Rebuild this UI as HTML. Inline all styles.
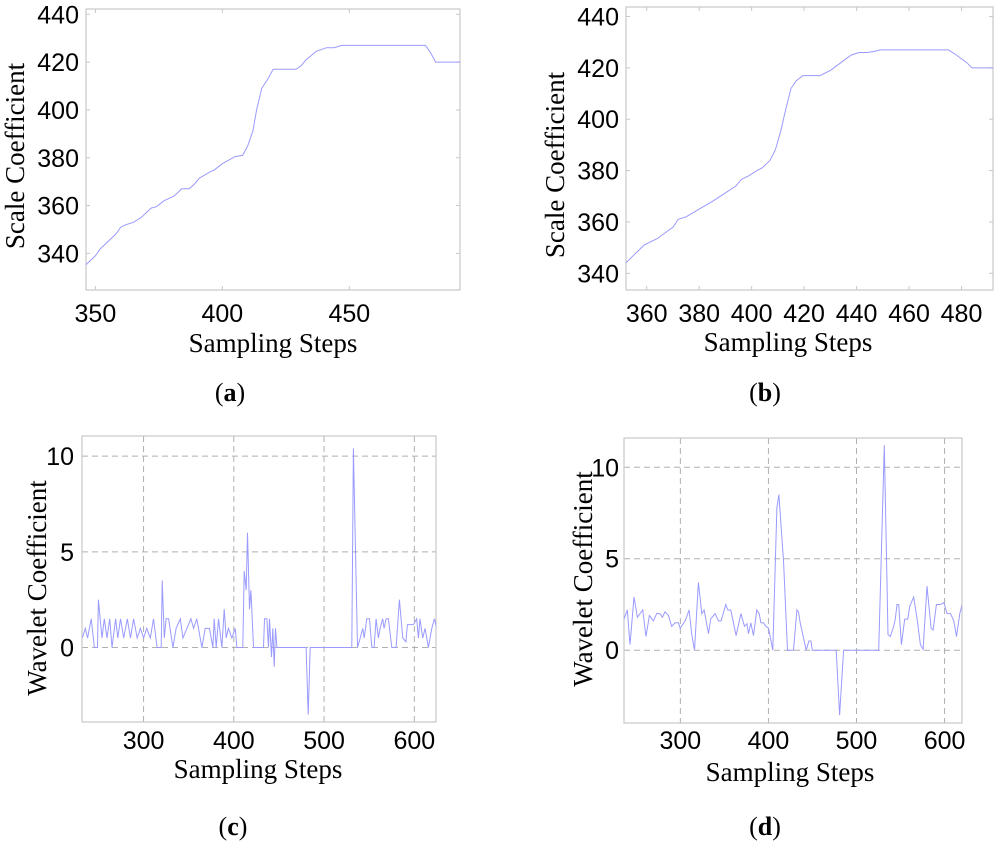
<!DOCTYPE html>
<html><head><meta charset="utf-8"><style>
html,body{margin:0;padding:0;background:#fff;}
svg{display:block;}
.tk{font-family:"Liberation Sans",sans-serif;font-size:25px;fill:#000;}
.ti{font-family:"Liberation Serif",serif;font-size:27px;fill:#000;}
.cap{font-family:"Liberation Serif",serif;font-size:26px;fill:#000;}
</style></head><body>
<svg id="fig" width="1000" height="842" viewBox="0 0 1000 842"></svg>
<script>
// Panel (a)
const aX=[346,350,352,358,360,362,365,368,372,374,377,379,381,383,384,387,389,391,395,397,400,405,408,410,412,413.5,415.5,418,420,429,431,433,437,441,444,447,480,482,484,494];
const aY=[335,339,342,348,351,352,353,355,359,359.5,362,363,364,366,367,367,369,371.5,374,375,377.5,380.5,381,385,391,400,409,413,417,417,418.5,421,424.5,426,426,427,427,424,420,420];
const aXTicks=[350,400,450];
const aYTicks=[340,360,380,400,420,440];
// Panel (b)
const bX=[352,355,359,364,370,372,375,380,385,388,394,396,399,402,404,407,409,411,413,415,417,419.5,422,426,430,434,438,441,444,447,449,475,478,482,484,492];
const bY=[344,347,351,353.5,358,361,362,365,368,370,374,376.5,378,380,381,384,388,395,404,412,415,417,417,417,419,422,425,426,426,426.5,427,427,425,422,420,420];
const bXTicks=[360,380,400,420,440,460,480];
const bYTicks=[340,360,380,400,420,440];
// Panel (c)
const cX=[232,235.5,238,242,245.5,249,250,254,256.5,259.5,262.5,265,269,271.5,274.5,278,282,285.5,289,293,296.5,300,303.5,307.5,311,315,319.5,320.7,323,325,327.7,332.5,336,340.7,343.6,348,352.5,355.4,359,364.6,368.3,373,376.8,378.3,380.5,383,386.8,389.4,391.6,394,397.9,401.5,403.4,410,411.5,413.7,415.2,417.4,418.9,421.8,432.9,434,436.6,438.4,439.5,441.7,443.2,444.7,446.2,447.7,480.1,482.4,484.6,530.7,532.5,537,540,542.9,544.4,547.3,550.3,552.9,555.4,557.6,560.2,562.1,565,566.5,568.7,571.3,575,579.8,583.5,587.2,590.7,592.3,599,602.6,604.5,606.3,609.3,611.9,615.6,619.3,622.2,624.8];
const cY=[0.5,1,0.5,1.5,0,0,2.5,0.5,1.5,0.5,1.5,0,1.5,0.5,1.5,0.5,1.5,0.5,1.5,0.5,1,0.5,1,0.5,1.5,0,0,3.5,0.5,1.5,1.5,0,1,1.5,0.5,1,1.5,1,1.5,0,1,1,0,1.5,0,1.5,0,2,0.5,1,0.5,1,0,0,4,3,6,2,3,0,0,1.5,1.5,0,1.5,-0.5,1,-1,1,0,0,-3.5,0,0,10.4,0,0.5,1,0.5,1.5,1.5,0,0,1.5,0.5,1,1.5,1,1.5,1.5,0,0,2.5,0.5,0.3,1.2,1.2,1.5,0.5,1.5,0.5,1,0,1,1.5,1];
const cXTicks=[300,400,500,600];
const cYTicks=[0,5,10];
// Panel (d)
const dX=[236,239.8,242.8,247.4,251.2,257.2,261,264.8,269.4,273.1,276.9,279.6,282.6,286.4,290.2,294,297.8,299.7,305.4,309.9,312.9,316,320.5,324.3,327,331.9,334.5,339.5,343.3,346.3,351.6,353.9,357.3,363.3,368.7,372.8,375.5,377.4,380,383,386.8,389.5,391.4,394.4,397.1,400.1,405,409.6,411.9,417.2,421.7,428.5,432.3,434.2,436.1,442.9,446,448.2,449.8,477,480.8,485.4,525.2,531.6,535.8,538.4,542.2,544.1,546,547.9,551,554.7,558.2,560.4,565,568.8,572.6,575.6,580.1,584.7,587,590.7,595.3,599.1,602.9,606.7,610.5,613.5,617.3,620];
const dY=[1.7,2.2,0.3,2.9,1.8,2.2,0.75,1.9,1.6,2.0,2.0,1.8,2.1,1.9,1.3,1.5,1.5,1.2,1.6,2.2,0.9,0,3.7,2.0,2.2,0.9,1.7,2.0,1.6,1.6,2.5,2.2,2.2,0.8,2.0,1.3,1.45,0.9,1.5,0.8,2.2,2.0,1.5,1.5,1.3,1.2,0,7.8,8.5,4.8,0,0,2.2,2.1,1.5,0,0.5,0.5,0,0,-3.55,0,0,11.2,0.85,0.75,1.3,1.7,2.5,2.5,0.3,1.7,1.7,2.4,2.9,1.7,0.3,0.05,3.5,1.2,1.1,2.5,2.5,2.6,2.0,2.0,1.6,0.75,2.0,2.5];
const dXTicks=[300,400,500,600];
const dYTicks=[0,5,10];

const NS="http://www.w3.org/2000/svg";
const svg=document.getElementById('fig');
function mk(tag,attrs,parent){const e=document.createElementNS(NS,tag);for(const k in attrs)e.setAttribute(k,attrs[k]);(parent||svg).appendChild(e);return e;}

function panel(p){
  const g=mk('g',{});
  
  
  const sx=v=>p.L+(v-p.x0)/(p.x1-p.x0)*(p.R-p.L);
  const sy=v=>p.B-(v-p.y0)/(p.y1-p.y0)*(p.B-p.T);
  p.xt.forEach(v=>{
    const x=sx(v);
    if(p.grid){const l=mk('line',{x1:x,x2:x,y1:p.T,y2:p.B,stroke:'#b0b0b0','stroke-width':1,'stroke-dasharray':'6,4'},g);}
    else{mk('line',{x1:x,x2:x,y1:p.B,y2:p.B-4,stroke:'#c8c8c8'},g);mk('line',{x1:x,x2:x,y1:p.T,y2:p.T+4,stroke:'#c8c8c8'},g);}
    const t=mk('text',{x:x,y:p.xly,'text-anchor':'middle',class:'tk'},g);t.textContent=v;
    
    
  });
  p.yt.forEach(v=>{
    const y=sy(v);
    if(p.grid){const l=mk('line',{x1:p.L,x2:p.R,y1:y,y2:y,stroke:'#b0b0b0','stroke-width':1,'stroke-dasharray':'6,4'},g);}
    else{mk('line',{x1:p.L,x2:p.L+4,y1:y,y2:y,stroke:'#c8c8c8'},g);mk('line',{x1:p.R,x2:p.R-4,y1:y,y2:y,stroke:'#c8c8c8'},g);}
    const t=mk('text',{x:p.ylx,y:y+9,'text-anchor':'end',class:'tk'},g);t.textContent=v;
    
    
  });
  const box=mk('rect',{x:p.L,y:p.T,width:p.R-p.L,height:p.B-p.T,fill:'none',stroke:'#c8c8c8','stroke-width':1.2},g);
  
  
  const cp=mk('clipPath',{id:'cp'+p.id},g);mk('rect',{x:p.L,y:p.T,width:p.R-p.L,height:p.B-p.T},cp);
  const pts=p.xs.map((v,i)=>sx(v).toFixed(1)+','+sy(p.ys[i]).toFixed(1)).join(' ');
  const line=mk('polyline',{points:pts,fill:'none',stroke:'#9a9aff','stroke-width':1,'clip-path':'url(#cp'+p.id+')'},g);
  
  
  const xt=mk('text',{x:p.xtx,y:p.xty,'text-anchor':'middle',class:'ti'},g);xt.textContent='Sampling Steps';
  
  
  const yt=mk('text',{x:0,y:0,'text-anchor':'middle',class:'ti',transform:'translate('+p.ytx+','+p.yty+') rotate(-90)'},g);yt.textContent=p.ytitle;
  
  
  const c=mk('text',{x:p.cx,y:p.cy,'text-anchor':'middle',class:'cap'},g);
  c.appendChild(document.createTextNode('('));
  const b=mk('tspan',{'font-weight':'bold'},c);b.textContent=p.id;
  c.appendChild(document.createTextNode(')'));
  
  
}
panel({id:'a',name:'panel-a',L:86,R:460,T:9,B:290,x0:346.3,x1:493.6,y0:324.7,y1:442.2,xs:aX,ys:aY,xt:aXTicks,yt:aYTicks,grid:false,xly:322,ylx:79,xtx:273,xty:352,ytx:24,yty:156,ytitle:'Scale Coefficient',cx:230,cy:401});
panel({id:'b',name:'panel-b',L:626,R:993,T:7,B:290,x0:352.1,x1:492,y0:333.5,y1:443.7,xs:bX,ys:bY,xt:bXTicks,yt:bYTicks,grid:false,xly:322,ylx:619,xtx:788,xty:351,ytx:564,yty:165,ytitle:'Scale Coefficient',cx:765,cy:401});
panel({id:'c',name:'panel-c',L:82,R:436,T:436,B:722,x0:231.8,x1:624,y0:-3.89,y1:11.05,xs:cX,ys:cY,xt:cXTicks,yt:cYTicks,grid:true,xly:749,ylx:74,xtx:258,xty:778,ytx:46,yty:588,ytitle:'Wavelet Coefficient',cx:233,cy:835});
panel({id:'d',name:'panel-d',L:624,R:962,T:438,B:723,x0:236,x1:619.8,y0:-3.98,y1:11.6,xs:dX,ys:dY,xt:dXTicks,yt:dYTicks,grid:true,xly:749,ylx:619,xtx:790,xty:781,ytx:592,yty:579,ytitle:'Wavelet Coefficient',cx:765,cy:835});
</script>
</body></html>
